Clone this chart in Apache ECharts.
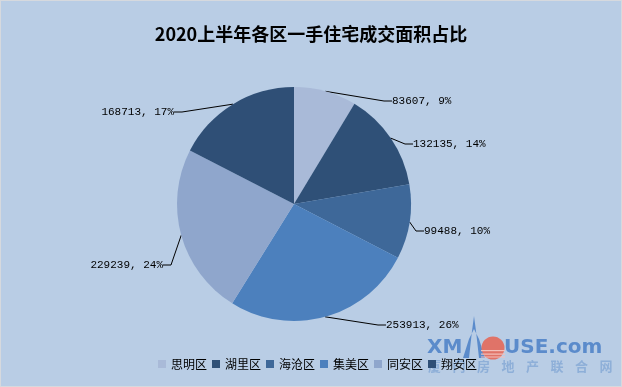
<!DOCTYPE html>
<html>
<head>
<meta charset="utf-8">
<script src="https://cdn.jsdelivr.net/npm/echarts@6/dist/echarts.min.js"></script>
<style>
html,body{margin:0;padding:0;background:#fff;}
#c{width:620px;height:385px;border:1px solid #d6d9de;background:#b9cde5;}
</style>
</head>
<body>
<div id="c"></div>
<script>
const categories = ['思明区','湖里区','海沧区','集美区','同安区','翔安区'];
const areaValues = [83607, 132135, 99488, 253913, 229239, 168713];
const sliceColors = ['#a9bad8','#2f5077','#3e6899','#4c80bd','#8fa6cc','#2f4f76'];
const titleText = '2020上半年各区一手住宅成交面积占比';

// label anchor placement (x, y, side)
const labelPlace = [[391,100,'left'],[412,143,'left'],[423,230,'left'],[385,324,'left'],[162,264,'right'],[173,111,'right']];

const chart = echarts.init(document.getElementById('c'));
const wmChars = '厦门房地产联合网'.split('');
const graphics = [
  {type:'text', left:426, top:337, style:{text:'XM', font:'bold 20px "DejaVu Sans"', fill:'#5b8bcb'}},
  {type:'polygon', shape:{points:[[462,357],[468,357],[471,330],[473,315],[475,330],[478,357],[484,357],[478,338],[473,328],[468,338]]}, style:{fill:'#5b8bcb'}},
  {type:'circle', shape:{cx:492, cy:347, r:11.5}, style:{fill:'#e07368'}},
  {type:'rect', shape:{x:480, y:349, width:24, height:1.2}, style:{fill:'#f4c1bb'}},
  {type:'rect', shape:{x:480, y:352.5, width:24, height:1.2}, style:{fill:'#f4c1bb'}},
  {type:'rect', shape:{x:480, y:355.5, width:24, height:1}, style:{fill:'#f4c1bb'}},
  {type:'text', left:503, top:337, style:{text:'USE.com', font:'bold 20px "DejaVu Sans"', fill:'#5b8bcb'}}
];
wmChars.forEach((ch,i)=>{
  graphics.push({type:'text', left:427 + i*24.5, top:359, style:{text:ch, font:'bold 13px "Noto Sans CJK SC"', fill:'#8eafd8'}});
});

chart.setOption({
  backgroundColor:'#b9cde5',
  animation:false,
  color: sliceColors,
  title:{
    text:titleText, left:'center', top:19,
    textStyle:{fontFamily:'"Noto Sans CJK SC"', fontWeight:'bold', fontSize:18, color:'#000'}
  },
  legend:{
    data:categories, left:152, top:352,
    itemWidth:8, itemHeight:8, itemGap:5, icon:'rect',
    textStyle:{fontFamily:'"Noto Sans CJK SC"', fontSize:12, color:'#000'}
  },
  graphic: graphics,
  series:[{
    type:'pie',
    center:[293,203],
    radius:117,
    startAngle:90,
    clockwise:true,
    percentPrecision:0,
    data: categories.map((n,i)=>({name:n, value:areaValues[i]})),
    itemStyle:{borderWidth:0},
    label:{
      show:true,
      formatter:'{c}, {d}%',
      fontFamily:'"Liberation Mono"',
      fontSize:11,
      color:'#000'
    },
    labelLine:{show:true, lineStyle:{color:'#000', width:1}},
    labelLayout:function(params){
      const a = labelPlace[params.dataIndex];
      const p0 = params.labelLinePoints ? params.labelLinePoints[0] : [a[0],a[1]];
      const d = a[2]==='left' ? -8 : 8;
      return {
        x:a[0], y:a[1], align:a[2], verticalAlign:'middle',
        labelLinePoints:[p0, [a[0]+d, a[1]], [a[0], a[1]]]
      };
    }
  }]
});
</script>
</body>
</html>
